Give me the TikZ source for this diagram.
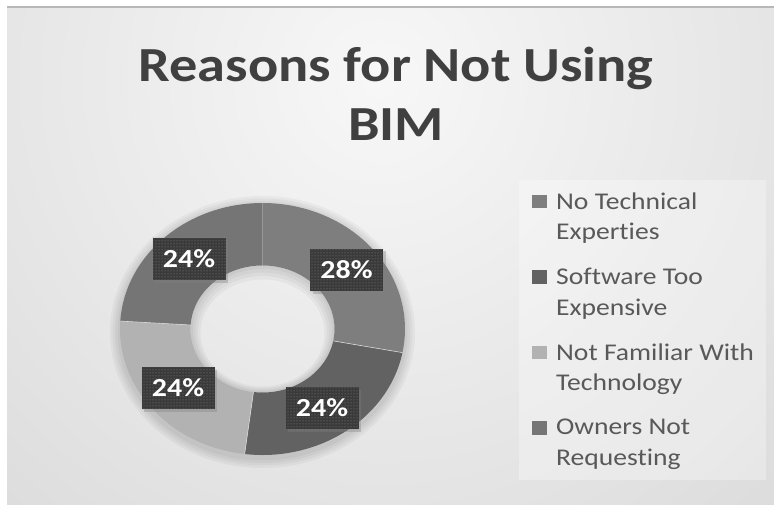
\documentclass[tikz,border=0pt]{standalone}
\usepackage{fontspec}
\setmainfont[Ligatures=NoCommon, FakeStretch=1.15]{Carlito}
\usetikzlibrary{shadows,patterns,positioning}

\definecolor{titlegray}{HTML}{404040}
\definecolor{textgray}{HTML}{595959}
\definecolor{bgedge}{HTML}{C4C4C4}
\definecolor{lblgray}{HTML}{3A3A3A}
\definecolor{segA}{HTML}{7E7E7E}
\definecolor{segB}{HTML}{626262}
\definecolor{segC}{HTML}{B2B2B2}
\definecolor{segD}{HTML}{757575}

\begin{document}
\begin{tikzpicture}
        [x=1pt,y=1pt,%%%%%%%%%%%%%%%%%%%%%%%%%%%%%%
        lbl/.style={fill=lblgray, text=white, inner sep=0pt,
          minimum width=73pt, minimum height=42pt,
          font=\bfseries\fontsize{26}{26}\selectfont,
          postaction={pattern=dots, pattern color=black!45},
          drop shadow={opacity=0.35, shadow xshift=2.5pt, shadow yshift=-2.5pt}},
        key/.style={minimum width=14.5pt, minimum height=13.5pt, inner sep=0pt},
        keytext/.style={text=textgray, align=left, inner sep=0pt, anchor=north west,
          font=\fontsize{24}{30.5}\selectfont},
        sep/.style={draw=white!70!gray, line width=0.6pt},
        halo/.style={black, opacity=0.035, even odd rule},
        ]%%%%%%%%%%%%%%%%%%%%%%%%%%%%%%
        \useasboundingbox[fill=white] (0,0) rectangle (774,-505);
        % Background
        \begin{scope}
          \clip (7,-7) rectangle (774,-505);
          \shade[inner color=black!3, outer color=bgedge] (380,-80) circle (1100pt);
        \end{scope}
        \draw[black!28, line width=2pt] (7,-7) -- (774,-7);
        % Title
        \node[text=titlegray, align=center, inner sep=0pt, anchor=north,
          font=\bfseries\fontsize{49}{59}\selectfont] (title) at (396,-47)
          {Reasons for Not Using\\BIM};
        % Donut
        \coordinate (c) at (262.5,-329);
        \foreach \s in {1,...,4}{
          \fill[halo] ([yshift=-3pt]c) ellipse [x radius={142.5pt+\s*2.5pt}, y radius={126pt+\s*2.5pt}]
            (c) ellipse [x radius=100pt, y radius=90pt];
          \fill[halo] (c) ellipse [x radius=72pt, y radius=63.5pt]
            ([yshift=-\s*1pt]c) ellipse [x radius={72pt-\s*2.5pt}, y radius={63.5pt-\s*2.5pt}];
        }
        \foreach \a/\b/\col in {90/-10.8/segA, -10.8/-97.2/segB, -97.2/-183.6/segC, -183.6/-270/segD}{
          \fill[\col] ([shift={(\a:142.5pt and 126pt)}]c)
            arc[start angle=\a, end angle=\b, x radius=142.5pt, y radius=126pt]
            -- ([shift={(\b:72pt and 63.5pt)}]c)
            arc[start angle=\b, end angle=\a, x radius=72pt, y radius=63.5pt] -- cycle;
          \draw[sep] ([shift={(\a:72pt and 63.5pt)}]c) -- ([shift={(\a:142.5pt and 126pt)}]c);
        }
        % Data labels
        \node[lbl] (pA) at (346.5,-270) {28\%};
        \node[lbl] (pB) at (322,-408) {24\%};
        \node[lbl] (pC) at (178,-388) {24\%};
        \node[lbl] (pD) at (189,-259) {24\%};
        % Legend
        \fill[white, opacity=0.3] (519,-180) rectangle (766,-480);
        \foreach \i/\col/\txt in {0/segA/{No Technical\\Experties},
            1/segB/{Software Too\\Expensive},
            2/segC/{Not Familiar With\\Technology},
            3/segD/{Owners Not\\Requesting}}{
          \node[key, fill=\col] (k\i) at (539.5,{-201.5-75.5*\i}) {};
          \node[keytext] (t\i) at ([xshift=9pt, yshift=2pt]k\i.north east) {\txt};
        }
      \end{tikzpicture}
\end{document}
